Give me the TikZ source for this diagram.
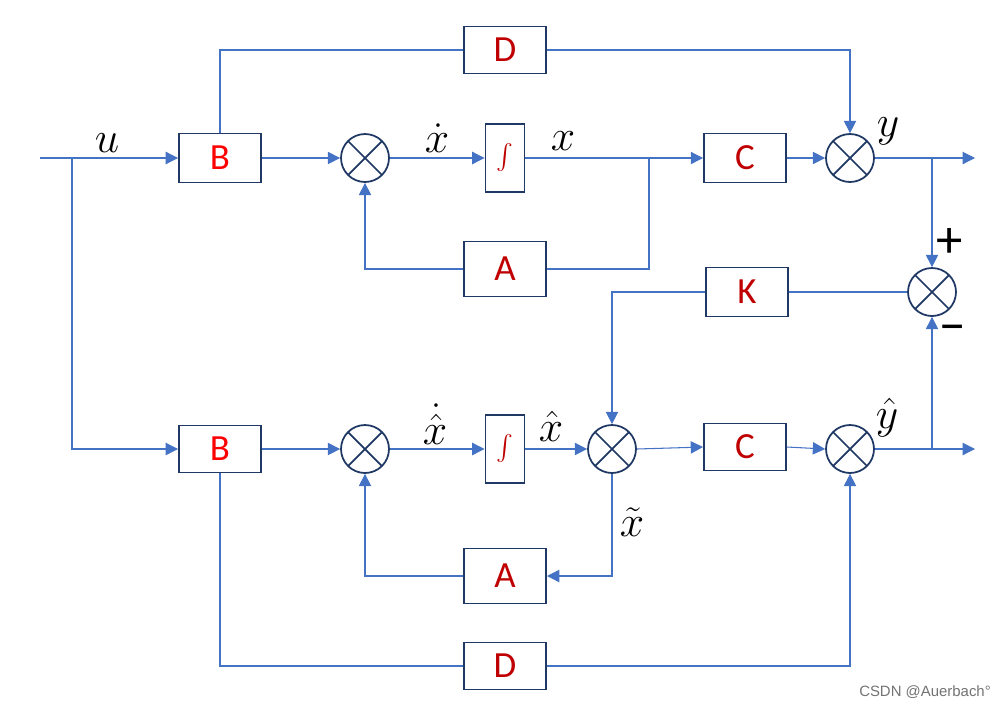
\documentclass[tikz,border=0pt]{standalone}
\usepackage{amsmath}
\usepackage{fontspec}
\setsansfont{Carlito}
\newfontfamily\markfont{Liberation Sans}
\usetikzlibrary{arrows.meta}
\definecolor{wire}{HTML}{4472C4}
\definecolor{rim}{HTML}{1F3864}
\definecolor{lbl}{HTML}{C00000}
\tikzset{
  blk/.style={draw=rim, line width=1.1pt, fill=white, text=lbl, inner sep=0pt,
              minimum width=1.64cm, minimum height=0.98cm,
              font=\sffamily\fontsize{21}{24}\selectfont},
  sum/.style={draw=rim, line width=1pt, circle, minimum size=0.96cm, inner sep=0pt,
              path picture={
                \draw[rim, line width=1pt] (path picture bounding box.north west) -- (path picture bounding box.south east);
                \draw[rim, line width=1pt] (path picture bounding box.south west) -- (path picture bounding box.north east);
              }},
}
\begin{document}
\begin{tikzpicture}[
  x=0.02cm, y=-0.02cm,
  >={Triangle[length=7pt,width=7pt]},
  wire/.style={draw=wire, line width=0.6pt},
  intg/.style={blk, minimum width=0.78cm, minimum height=1.36cm, font=\fontsize{14}{16}\selectfont},
  sig/.style={inner sep=0pt, font=\fontsize{25}{28}\selectfont},
  sgn/.style={inner sep=0pt, font=\sffamily\fontsize{30}{32}\selectfont}
]
  \useasboundingbox (0,0) rectangle (1003,708);

  % upper loop: the plant
  \node[blk, text=red] (bt) at (220,158) {B};
  \node[blk, minimum height=0.94cm] (dt) at (505,50) {D};
  \node[sum] (s1) at (365,158) {};
  \node[intg] (it) at (505,158) {$\int$};
  \node[blk, minimum height=1.1cm] (at) at (505,269) {A};
  \node[blk] (ct) at (745,158) {C};
  \node[sum] (sy) at (850,158) {};

  % error and gain
  \node[sum] (se) at (932,292) {};
  \node[blk] (k) at (747,292) {K};

  % lower loop: the observer
  \node[blk, text=red, minimum height=0.94cm] (bb) at (220,449) {B};
  \node[sum] (s2) at (365,449) {};
  \node[intg] (ib) at (505,449) {$\int$};
  \node[sum] (sh) at (612,449) {};
  \node[blk, minimum height=0.94cm] (cb) at (745,447) {C};
  \node[sum] (syh) at (850,449) {};
  \node[blk, minimum height=1.1cm] (ab) at (505,576) {A};
  \node[blk, minimum height=0.94cm] (db) at (505,666) {D};

  \coordinate (in) at (40,158);
  \coordinate (tap) at (72,158);
  \coordinate (fb) at (649,158);
  \coordinate (ty) at (932,158);
  \coordinate (outy) at (975,158);
  \coordinate (tyh) at (932,449);
  \coordinate (outyh) at (975,449);

  % upper wires
  \draw[wire,->] (in) -- (bt.west);
  \draw[wire] (bt.north) |- (dt.west);
  \draw[wire,->] (dt.east) -| (sy.north);
  \draw[wire,->] (bt.east) -- (s1.west);
  \draw[wire,->] (s1.east) -- (it.west);
  \draw[wire,->] (it.east) -- (ct.west);
  \draw[wire] (fb) |- (at.east);
  \draw[wire,->] (at.west) -| (s1.south);
  \draw[wire,->] (ct.east) -- (sy.west);
  \draw[wire,->] (sy.east) -- (outy);
  \draw[wire,->] (ty) -- (se.north);

  % gain wires
  \draw[wire] (se.west) -- (k.east);
  \draw[wire,->] (k.west) -| (sh.north);

  % lower wires
  \draw[wire,->] (tap) |- (bb.west);
  \draw[wire,->] (bb.east) -- (s2.west);
  \draw[wire,->] (s2.east) -- (ib.west);
  \draw[wire,->] (ib.east) -- (sh.west);
  \draw[wire,->] (sh.east) -- (cb.west);
  \draw[wire,->] (cb.east) -- (syh.west);
  \draw[wire,->] (syh.east) -- (outyh);
  \draw[wire,->] (tyh) -- (se.south);
  \draw[wire,->] (sh.south) |- (ab.east);
  \draw[wire,->] (ab.west) -| (s2.south);
  \draw[wire] (bb.south) |- (db.west);
  \draw[wire,->] (db.east) -| (syh.south);

  % signal labels
  \node[sig] (lu) at (107,143) {$u$};
  \node[sig] (lxd) at (437,138) {$\dot{x}$};
  \node[sig] (lx) at (563,141) {$x$};
  \node[sig] (ly) at (888,131) {$y$};
  \node[sig] (lhxd) at (435,424) {$\dot{\hat{x}}$};
  \node[sig] (lhx) at (551,426) {$\hat{x}$};
  \node[sig] (ltx) at (632,522) {$\tilde{x}$};
  \node[sig] (lhy) at (887,418) {$\hat{y}$};
  \node[sgn] (lplus) at (950,243) {+};
  \node[sgn] (lminus) at (953,334) {\textminus};

  \node[text=black!55, font=\markfont\fontsize{8.5}{10}\selectfont] (mark) at (925,692) {CSDN @Auerbach°};
\end{tikzpicture}
\end{document}
